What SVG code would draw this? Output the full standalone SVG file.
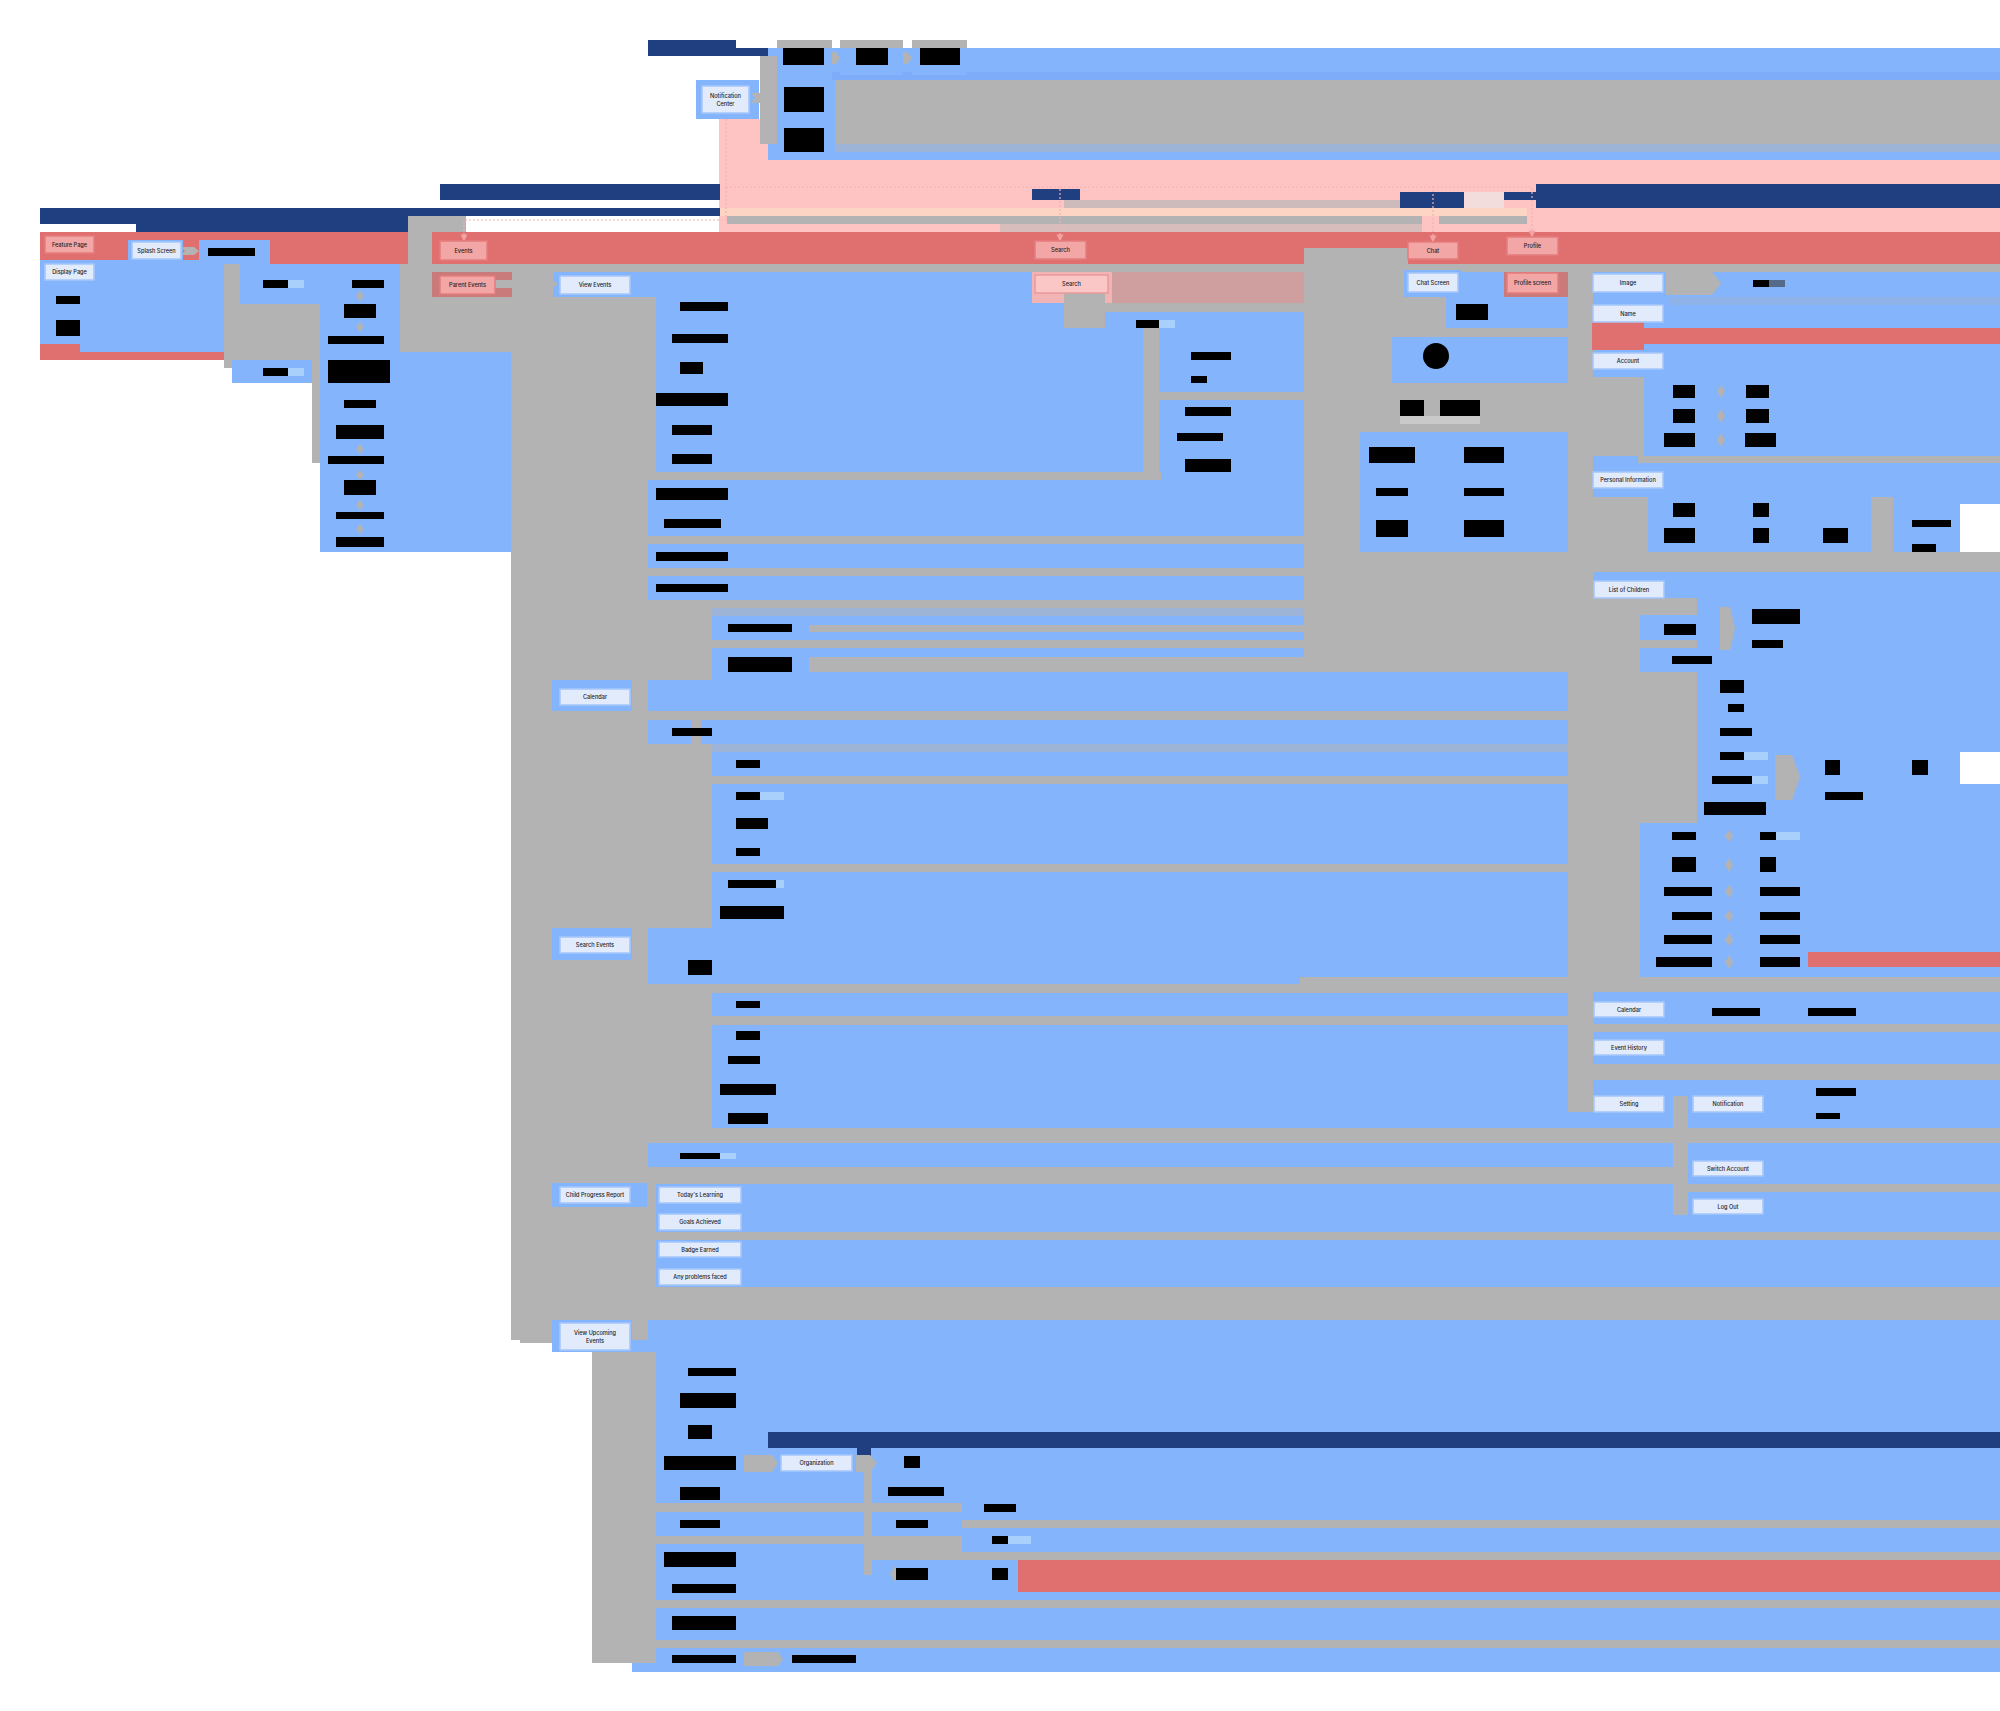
<svg xmlns="http://www.w3.org/2000/svg" width="2000" height="1711" viewBox="0 0 2000 1711">
<style>
.b{fill:#84b4fc}.b2{fill:#7eacf8}.g{fill:#b3b3b3}.r{fill:#e07070}.p{fill:#fec4c4}.d{fill:#1f3f80}.k{fill:#000}.w{fill:#fff}
.pg{fill:#cdbaba}.pk{fill:#fdd5c5}.gb{fill:#9db4d6}.hr{fill:#c97b7b}.lb{fill:#a9d0fa}
.n rect{fill:#e2ebfb;stroke:#a6c6fb;stroke-width:1.5}
.rn rect{fill:#f3a6a6;stroke:#e67c7c;stroke-width:1.5}
.sn rect{fill:#fbc6c6;stroke:#ea9a9a;stroke-width:1.5}
text{font-family:Inter,"Liberation Sans",sans-serif;font-size:5.6px;fill:#222;text-anchor:middle;font-weight:500}
.dot{fill:none;stroke:#f5b0b0;stroke-width:1.2;stroke-dasharray:2 2}
</style>
<defs>
<marker id="pa" markerWidth="6" markerHeight="6" refX="3" refY="3" orient="auto"><path d="M0,0 L6,3 L0,6 Z" fill="#f2a3a3"/></marker>
</defs>
<rect width="2000" height="1711" fill="#fff"/>
<g id="regions">
<rect class="p" x="719" y="119" width="58" height="41"/>
<rect class="p" x="719" y="160" width="1281" height="72"/>
<rect class="b" x="768" y="48" width="67" height="112"/>
<rect class="b" x="832" y="48" width="1168" height="32"/>
<rect class="b2" x="832" y="72" width="1168" height="8"/>
<rect class="g" x="835" y="80" width="1165" height="64"/>
<rect class="gb" x="835" y="144" width="1165" height="8"/>
<rect class="b" x="777" y="152" width="1223" height="8"/>
<rect class="g" x="760" y="56" width="17" height="88"/>
<rect class="d" x="648" y="40" width="88" height="16"/>
<rect class="d" x="736" y="48" width="32" height="8"/>
<rect class="g" x="777" y="40" width="55" height="8"/>
<rect class="g" x="840" y="40" width="63" height="8"/>
<rect class="g" x="912" y="40" width="55" height="8"/>
<rect class="b" x="840" y="48" width="63" height="27"/>
<rect class="b" x="912" y="48" width="55" height="27"/>
<rect class="b" x="696" y="80" width="63" height="39"/>
<rect class="d" x="440" y="184" width="280" height="16"/>
<rect class="d" x="40" y="208" width="680" height="8"/>
<rect class="d" x="40" y="216" width="368" height="8"/>
<rect class="d" x="136" y="224" width="272" height="8"/>
<rect class="d" x="1536" y="184" width="464" height="24"/>
<rect class="d" x="1400" y="192" width="64" height="16"/>
<rect fill="#f3dcdc" x="1464" y="192" width="40" height="16"/>
<rect class="d" x="1032" y="189" width="48" height="11"/>
<rect class="d" x="1504" y="192" width="32" height="8"/>
<rect class="pg" x="1064" y="200" width="336" height="8"/>
<rect class="pk" x="720" y="208" width="807" height="8"/>
<rect class="g" x="727" y="216" width="695" height="8"/>
<rect class="g" x="1439" y="216" width="88" height="8"/>
<rect fill="#d8bdbd" x="1000" y="224" width="422" height="8"/>
<rect class="g" x="408" y="216" width="58" height="16"/>
<rect class="r" x="40" y="232" width="368" height="32"/>
<rect class="g" x="408" y="232" width="24" height="40"/>
<rect class="r" x="432" y="232" width="1568" height="32"/>
<rect class="g" x="1304" y="248" width="104" height="16"/>
<rect class="g" x="408" y="264" width="1592" height="8"/>
<rect class="b" x="632" y="272" width="1368" height="1400"/>
<rect class="b" x="40" y="260" width="184" height="84"/>
<rect class="b" x="80" y="344" width="144" height="8"/>
<rect class="r" x="40" y="344" width="40" height="8"/>
<rect class="r" x="40" y="352" width="184" height="8"/>
<rect class="b" x="128" y="240" width="55" height="24"/>
<rect class="b" x="199" y="240" width="71" height="24"/>
<rect class="g" x="224" y="264" width="16" height="104"/>
<rect class="b" x="240" y="264" width="80" height="40"/>
<rect class="g" x="240" y="304" width="80" height="56"/>
<rect class="b" x="232" y="360" width="80" height="23"/>
<rect class="g" x="312" y="360" width="8" height="103"/>
<rect class="b" x="320" y="264" width="80" height="288"/>
<rect class="g" x="400" y="264" width="8" height="89"/>
<rect class="g" x="408" y="272" width="145" height="81"/>
<rect class="hr" x="432" y="272" width="80" height="25"/>
<rect class="b" x="553" y="272" width="79" height="25"/>
<rect class="b" x="400" y="352" width="111" height="200"/>
<rect class="g" x="511" y="297" width="137" height="1043"/>
<rect class="g" x="520" y="1335" width="32" height="8"/>
<rect class="g" x="647" y="297" width="9" height="183"/>
<rect class="g" x="647" y="472" width="514" height="8"/>
<rect fill="#cf9f9f" x="1032" y="272" width="272" height="31"/>
<rect fill="#f0b4b4" x="1032" y="272" width="80" height="31"/>
<rect class="g" x="1064" y="303" width="240" height="9"/>
<rect class="g" x="1064" y="293" width="41" height="35"/>
<rect class="g" x="1143" y="328" width="16" height="152"/>
<rect class="g" x="1159" y="392" width="145" height="8"/>
<rect class="g" x="1304" y="272" width="104" height="400"/>
<rect class="b" x="1404" y="270" width="58" height="27"/>
<rect class="b" x="1458" y="272" width="46" height="25"/>
<rect class="hr" x="1504" y="272" width="64" height="25"/>
<rect class="g" x="1408" y="297" width="38" height="31"/>
<rect class="b" x="1446" y="297" width="122" height="31"/>
<rect class="g" x="1408" y="328" width="160" height="9"/>
<rect class="b" x="1392" y="337" width="176" height="46"/>
<rect class="g" x="1360" y="383" width="208" height="49"/>
<rect fill="#c9c9c9" x="1400" y="416" width="80" height="8"/>
<rect class="b" x="1360" y="432" width="208" height="120"/>
<rect class="g" x="1304" y="552" width="264" height="120"/>
<rect class="g" x="1568" y="272" width="25" height="840"/>
<rect class="g" x="647" y="536" width="657" height="8"/>
<rect class="g" x="647" y="568" width="657" height="8"/>
<rect class="g" x="648" y="600" width="656" height="8"/>
<rect class="gb" x="712" y="608" width="592" height="8"/>
<rect class="g" x="648" y="600" width="64" height="80"/>
<rect class="g" x="809" y="625" width="495" height="7"/>
<rect class="g" x="712" y="640" width="592" height="8"/>
<rect class="g" x="809" y="657" width="495" height="15"/>
<rect class="b" x="552" y="680" width="80" height="31"/>
<rect class="g" x="632" y="711" width="936" height="9"/>
<rect class="gb" x="697" y="744" width="871" height="8"/>
<rect class="g" x="648" y="776" width="920" height="8"/>
<rect class="g" x="648" y="864" width="920" height="8"/>
<rect class="g" x="648" y="744" width="64" height="184"/>
<rect class="b" x="552" y="928" width="80" height="32"/>
<rect class="g" x="656" y="984" width="912" height="9"/>
<rect class="g" x="656" y="1016" width="912" height="9"/>
<rect class="g" x="648" y="984" width="64" height="144"/>
<rect class="g" x="691" y="711" width="10" height="160"/>
<rect class="g" x="511" y="1128" width="1489" height="15"/>
<rect class="g" x="511" y="1167" width="1162" height="17"/>
<rect class="g" x="1688" y="1184" width="312" height="8"/>
<rect class="g" x="511" y="1183" width="145" height="104"/>
<rect class="b" x="552" y="1183" width="95" height="24"/>
<rect class="g" x="656" y="1232" width="1344" height="8"/>
<rect class="g" x="511" y="1287" width="1489" height="33"/>
<rect class="b" x="552" y="1320" width="80" height="32"/>
<rect class="g" x="511" y="1320" width="41" height="15"/>
<rect class="g" x="592" y="1352" width="64" height="311"/>
<rect fill="#8fb2e8" x="1670" y="297" width="330" height="8"/>
<rect class="r" x="1592" y="328" width="408" height="16"/>
<rect class="r" x="1592" y="322" width="52" height="28"/>
<rect class="g" x="1593" y="377" width="51" height="79"/>
<rect class="g" x="1638" y="456" width="362" height="7"/>
<rect class="g" x="1593" y="497" width="55" height="63"/>
<rect class="g" x="1871" y="497" width="22" height="63"/>
<rect class="w" x="1960" y="504" width="40" height="56"/>
<rect class="g" x="1593" y="552" width="407" height="20"/>
<rect class="g" x="1592" y="598" width="105" height="225"/>
<rect class="b" x="1640" y="615" width="80" height="25"/>
<rect class="b" x="1640" y="648" width="80" height="24"/>
<rect class="b" x="1720" y="600" width="88" height="50"/>
<rect class="g" x="1592" y="823" width="48" height="154"/>
<rect class="g" x="1300" y="977" width="700" height="15"/>
<rect class="g" x="1300" y="1016" width="268" height="8"/>
<rect class="g" x="1592" y="1024" width="408" height="8"/>
<rect class="g" x="1568" y="1064" width="432" height="16"/>
<rect class="g" x="1673" y="1096" width="15" height="119"/>
<rect class="g" x="1300" y="1232" width="700" height="8"/>
<rect class="w" x="1960" y="752" width="40" height="32"/>
<rect class="r" x="1808" y="952" width="192" height="15"/>
<rect class="d" x="768" y="1432" width="1232" height="16"/>
<rect class="d" x="857" y="1448" width="14" height="8"/>
<rect class="g" x="864" y="1470" width="8" height="105"/>
<rect class="g" x="650" y="1503" width="312" height="9"/>
<rect class="g" x="962" y="1520" width="1038" height="8"/>
<rect class="g" x="650" y="1536" width="214" height="8"/>
<rect class="g" x="864" y="1536" width="98" height="24"/>
<rect class="g" x="962" y="1552" width="1038" height="8"/>
<rect class="r" x="1018" y="1560" width="982" height="32"/>
<rect class="g" x="650" y="1600" width="1350" height="8"/>
<rect class="g" x="650" y="1640" width="1350" height="8"/>
</g>
<g id="connectors">
<path class="dot" d="M726,119 V220 H464 V238" marker-end="url(#pa)"/>
<path class="dot" d="M726,187 H1060 V238" marker-end="url(#pa)"/>
<path class="dot" d="M1060,187 H1433 V239" marker-end="url(#pa)"/>
<path class="dot" d="M1433,187 H1532 V234" marker-end="url(#pa)"/>
<polygon class="g" points="181,247 194,247 199,251 194,255 181,255 185,251"/>
<polygon class="g" points="751,93 771,93 777,98 771,103 751,103 755,98"/>
<polygon class="g" points="832,52 836,52 840,58 836,64 832,64"/>
<polygon class="g" points="903,52 907,52 912,58 907,64 903,64"/>
<polygon class="g" points="495,280 552,280 558,284 552,288 495,288"/>
<polygon class="g" points="1666,272 1712,272 1721,283 1712,295 1666,295"/>
<polygon class="g" points="744,1455 772,1455 778,1463 772,1472 744,1472"/>
<polygon class="g" points="856,1455 870,1455 877,1463 870,1472 856,1472"/>
<polygon class="g" points="744,1652 778,1652 783,1659 778,1666 744,1666"/>
<polygon class="g" points="1775,755 1792,755 1800,777 1792,800 1775,800"/>
<polygon class="g" points="1720,607 1730,607 1735,628 1730,650 1720,650"/>
<polygon class="g" points="360,291 364,296 360,301 356,296"/>
<polygon class="g" points="360,322 364,327 360,332 356,327"/>
<polygon class="g" points="360,444 364,449 360,454 356,449"/>
<polygon class="g" points="360,470 364,475 360,480 356,475"/>
<polygon class="g" points="360,500 364,505 360,510 356,505"/>
<polygon class="g" points="360,524 364,529 360,534 356,529"/>
<polygon class="g" points="1721,385 1725,391 1721,398 1717,391"/>
<polygon class="g" points="1721,409 1725,416 1721,423 1717,416"/>
<polygon class="g" points="1721,433 1725,440 1721,447 1717,440"/>
<polygon class="g" points="1729,830 1733,836 1729,842 1725,836"/>
<polygon class="g" points="1729,858 1733,865 1729,872 1725,865"/>
<polygon class="g" points="1729,885 1733,891 1729,898 1725,891"/>
<polygon class="g" points="1729,910 1733,916 1729,922 1725,916"/>
<polygon class="g" points="1729,933 1733,940 1729,946 1725,940"/>
<polygon class="g" points="1729,955 1733,962 1729,969 1725,962"/>
<polygon class="g" points="895,1566 900,1574 895,1582 890,1574"/>
</g>
<g id="nodes">
<g id="n-notification-center" class="n"><rect x="702" y="86" width="47" height="27"/><text x="725.5" y="98">Notification</text><text x="725.5" y="106">Center</text></g>
<g id="n-feature-page" class="rn"><rect x="45" y="236" width="49" height="17"/><text x="69.5" y="246.5">Feature Page</text></g>
<g id="n-display-page" class="n"><rect x="45" y="264" width="49" height="16"/><text x="69.5" y="274">Display Page</text></g>
<g id="n-splash-screen" class="n"><rect x="132" y="242" width="49" height="17"/><text x="156.5" y="252.5">Splash Screen</text></g>
<g id="n-events" class="rn"><rect x="440" y="241" width="47" height="19"/><text x="463.5" y="252.5">Events</text></g>
<g id="n-parent-events" class="rn"><rect x="440" y="276" width="55" height="18"/><text x="467.5" y="287">Parent Events</text></g>
<g id="n-view-events" class="n"><rect x="560" y="276" width="70" height="18"/><text x="595" y="287">View Events</text></g>
<g id="n-search-tab" class="rn"><rect x="1035" y="241" width="51" height="18"/><text x="1060.5" y="252">Search</text></g>
<g id="n-search" class="sn"><rect x="1035" y="275" width="73" height="18"/><text x="1071.5" y="286">Search</text></g>
<g id="n-chat" class="rn"><rect x="1408" y="242" width="50" height="17"/><text x="1433" y="252.5">Chat</text></g>
<g id="n-profile" class="rn"><rect x="1507" y="237" width="51" height="18"/><text x="1532.5" y="248">Profile</text></g>
<g id="n-chat-screen" class="n"><rect x="1408" y="273" width="50" height="19"/><text x="1433" y="284.5">Chat Screen</text></g>
<g id="n-profile-screen" class="rn"><rect x="1507" y="273" width="51" height="20"/><text x="1532.5" y="285">Profile screen</text></g>
<g id="n-image" class="n"><rect x="1593" y="274" width="70" height="18"/><text x="1628" y="285">Image</text></g>
<g id="n-name" class="n"><rect x="1593" y="305" width="70" height="17"/><text x="1628" y="315.5">Name</text></g>
<g id="n-account" class="n"><rect x="1593" y="353" width="70" height="16"/><text x="1628" y="363">Account</text></g>
<g id="n-personal-information" class="n"><rect x="1593" y="472" width="70" height="16"/><text x="1628" y="482">Personal Information</text></g>
<g id="n-list-of-children" class="n"><rect x="1594" y="581" width="70" height="17"/><text x="1629" y="591.5">List of Children</text></g>
<g id="n-calendar-profile" class="n"><rect x="1594" y="1002" width="70" height="15"/><text x="1629" y="1011.5">Calendar</text></g>
<g id="n-event-history" class="n"><rect x="1594" y="1040" width="70" height="15"/><text x="1629" y="1049.5">Event History</text></g>
<g id="n-setting" class="n"><rect x="1594" y="1096" width="70" height="16"/><text x="1629" y="1106">Setting</text></g>
<g id="n-notification" class="n"><rect x="1693" y="1096" width="70" height="16"/><text x="1728" y="1106">Notification</text></g>
<g id="n-switch-account" class="n"><rect x="1693" y="1161" width="70" height="15"/><text x="1728" y="1170.5">Switch Account</text></g>
<g id="n-log-out" class="n"><rect x="1693" y="1199" width="70" height="15"/><text x="1728" y="1208.5">Log Out</text></g>
<g id="n-calendar" class="n"><rect x="560" y="689" width="70" height="16"/><text x="595" y="699">Calendar</text></g>
<g id="n-search-events" class="n"><rect x="560" y="937" width="70" height="16"/><text x="595" y="947">Search Events</text></g>
<g id="n-child-progress-report" class="n"><rect x="560" y="1187" width="70" height="16"/><text x="595" y="1197">Child Progress Report</text></g>
<g id="n-todays-learning" class="n"><rect x="659" y="1187" width="82" height="16"/><text x="700" y="1197" font-weight="400">Today's Learning</text></g>
<g id="n-goals-achieved" class="n"><rect x="659" y="1214" width="82" height="16"/><text x="700" y="1224" font-weight="400">Goals Achieved</text></g>
<g id="n-badge-earned" class="n"><rect x="659" y="1242" width="82" height="15"/><text x="700" y="1251.5" font-weight="400">Badge Earned</text></g>
<g id="n-any-problems-faced" class="n"><rect x="659" y="1269" width="82" height="16"/><text x="700" y="1279" font-weight="400">Any problems faced</text></g>
<g id="n-view-upcoming-events" class="n"><rect x="560" y="1323" width="70" height="27"/><text x="595" y="1334.5">View Upcoming</text><text x="595" y="1343">Events</text></g>
<g id="n-organization" class="n"><rect x="781" y="1455" width="71" height="16"/><text x="816.5" y="1465">Organization</text></g>
</g>
<g id="hidden-labels">
<rect class="k" x="783" y="48" width="41" height="17"/><rect class="k" x="856" y="48" width="32" height="17"/><rect class="k" x="920" y="48" width="40" height="17"/>
<rect class="k" x="784" y="87" width="40" height="25"/><rect class="k" x="784" y="128" width="40" height="24"/>
<rect class="k" x="56" y="296" width="24" height="8"/><rect class="k" x="56" y="320" width="24" height="16"/>
<rect class="k" x="208" y="248" width="47" height="8"/>
<rect class="k" x="263" y="280" width="25" height="8"/><rect class="lb" x="288" y="280" width="16" height="8"/>
<rect class="k" x="263" y="368" width="25" height="8"/><rect class="lb" x="288" y="368" width="16" height="8"/>
<rect class="k" x="352" y="280" width="32" height="8"/><rect class="k" x="344" y="304" width="32" height="14"/><rect class="k" x="328" y="336" width="56" height="8"/>
<rect class="k" x="328" y="360" width="62" height="23"/><rect class="k" x="344" y="400" width="32" height="8"/><rect class="k" x="336" y="425" width="48" height="14"/>
<rect class="k" x="328" y="456" width="56" height="8"/><rect class="k" x="344" y="480" width="32" height="15"/><rect class="k" x="336" y="512" width="48" height="7"/>
<rect class="k" x="336" y="537" width="48" height="10"/>
<rect class="k" x="680" y="302" width="48" height="9"/><rect class="k" x="672" y="334" width="56" height="9"/><rect class="k" x="680" y="362" width="23" height="12"/>
<rect class="k" x="656" y="393" width="72" height="13"/><rect class="k" x="672" y="425" width="40" height="10"/><rect class="k" x="672" y="454" width="40" height="10"/>
<rect class="k" x="656" y="488" width="72" height="12"/><rect class="k" x="664" y="519" width="57" height="9"/><rect class="k" x="656" y="552" width="72" height="9"/>
<rect class="k" x="656" y="584" width="72" height="8"/><rect class="k" x="728" y="624" width="64" height="8"/><rect class="k" x="728" y="657" width="64" height="15"/>
<rect class="k" x="1136" y="320" width="23" height="8"/><rect class="lb" x="1159" y="320" width="16" height="8"/>
<rect class="k" x="1191" y="352" width="40" height="8"/><rect class="k" x="1191" y="376" width="16" height="7"/><rect class="k" x="1185" y="407" width="46" height="9"/>
<rect class="k" x="1177" y="433" width="46" height="8"/><rect class="k" x="1185" y="459" width="46" height="13"/>
<rect class="k" x="1456" y="304" width="32" height="16"/><circle class="k" cx="1436" cy="356" r="13"/>
<rect class="k" x="1400" y="400" width="24" height="16"/><rect class="k" x="1440" y="400" width="40" height="16"/>
<rect class="k" x="1369" y="447" width="46" height="16"/><rect class="k" x="1464" y="447" width="40" height="16"/>
<rect class="k" x="1376" y="488" width="32" height="8"/><rect class="k" x="1464" y="488" width="40" height="8"/>
<rect class="k" x="1376" y="520" width="32" height="17"/><rect class="k" x="1464" y="520" width="40" height="17"/>
<rect class="k" x="1753" y="280" width="16" height="7"/><rect fill="#556a88" x="1769" y="280" width="16" height="7"/>
<rect class="k" x="1673" y="385" width="22" height="13"/><rect class="k" x="1746" y="385" width="23" height="13"/>
<rect class="k" x="1673" y="409" width="22" height="14"/><rect class="k" x="1746" y="409" width="23" height="14"/>
<rect class="k" x="1664" y="433" width="31" height="14"/><rect class="k" x="1745" y="433" width="31" height="14"/>
<rect class="k" x="1673" y="503" width="22" height="14"/><rect class="k" x="1753" y="503" width="16" height="14"/>
<rect class="k" x="1664" y="528" width="31" height="15"/><rect class="k" x="1753" y="528" width="16" height="15"/><rect class="k" x="1823" y="528" width="25" height="15"/>
<rect class="k" x="1912" y="520" width="39" height="7"/><rect class="k" x="1912" y="544" width="24" height="8"/>
<rect class="k" x="1664" y="624" width="32" height="11"/><rect class="k" x="1752" y="609" width="48" height="15"/><rect class="k" x="1752" y="640" width="31" height="8"/>
<rect class="k" x="1672" y="656" width="40" height="8"/><rect class="k" x="1720" y="680" width="24" height="13"/><rect class="k" x="1728" y="704" width="16" height="8"/>
<rect class="k" x="1720" y="728" width="32" height="8"/><rect class="k" x="1720" y="752" width="24" height="8"/><rect class="lb" x="1744" y="752" width="24" height="8"/>
<rect class="k" x="1712" y="776" width="40" height="8"/><rect class="lb" x="1752" y="776" width="16" height="8"/><rect class="k" x="1704" y="802" width="62" height="13"/>
<rect class="k" x="1825" y="760" width="15" height="15"/><rect class="k" x="1912" y="760" width="16" height="15"/><rect class="k" x="1825" y="792" width="38" height="8"/>
<rect class="k" x="1672" y="832" width="24" height="8"/><rect class="k" x="1760" y="832" width="16" height="8"/><rect class="lb" x="1776" y="832" width="24" height="8"/>
<rect class="k" x="1672" y="857" width="24" height="15"/><rect class="k" x="1760" y="857" width="16" height="15"/>
<rect class="k" x="1664" y="887" width="48" height="9"/><rect class="k" x="1760" y="887" width="40" height="9"/>
<rect class="k" x="1672" y="912" width="40" height="8"/><rect class="k" x="1760" y="912" width="40" height="8"/>
<rect class="k" x="1664" y="935" width="48" height="9"/><rect class="k" x="1760" y="935" width="40" height="9"/>
<rect class="k" x="1656" y="957" width="56" height="10"/><rect class="k" x="1760" y="957" width="40" height="10"/>
<rect class="k" x="1712" y="1008" width="48" height="8"/><rect class="k" x="1808" y="1008" width="48" height="8"/>
<rect class="k" x="1816" y="1088" width="40" height="8"/><rect class="k" x="1816" y="1113" width="24" height="6"/>
<rect class="k" x="672" y="728" width="40" height="8"/><rect class="k" x="736" y="760" width="24" height="8"/>
<rect class="k" x="736" y="792" width="24" height="8"/><rect class="lb" x="760" y="792" width="24" height="8"/>
<rect class="k" x="736" y="818" width="32" height="11"/><rect class="k" x="736" y="848" width="24" height="8"/>
<rect class="k" x="728" y="880" width="48" height="8"/><rect class="lb" x="776" y="880" width="8" height="8"/><rect class="k" x="720" y="906" width="64" height="13"/>
<rect class="k" x="688" y="960" width="24" height="15"/><rect class="k" x="736" y="1001" width="24" height="7"/><rect class="k" x="736" y="1031" width="24" height="9"/>
<rect class="k" x="728" y="1056" width="32" height="8"/><rect class="k" x="720" y="1084" width="56" height="11"/><rect class="k" x="728" y="1113" width="40" height="11"/>
<rect class="k" x="680" y="1153" width="40" height="6"/><rect class="lb" x="720" y="1153" width="16" height="6"/>
<rect class="k" x="688" y="1368" width="48" height="8"/><rect class="k" x="680" y="1393" width="56" height="15"/><rect class="k" x="688" y="1425" width="24" height="14"/>
<rect class="k" x="664" y="1456" width="72" height="14"/><rect class="k" x="904" y="1456" width="16" height="12"/><rect class="k" x="888" y="1487" width="56" height="9"/>
<rect class="k" x="680" y="1487" width="40" height="13"/><rect class="k" x="984" y="1504" width="32" height="8"/>
<rect class="k" x="680" y="1520" width="40" height="8"/><rect class="k" x="896" y="1520" width="32" height="8"/>
<rect class="k" x="992" y="1536" width="16" height="8"/><rect class="lb" x="1008" y="1536" width="23" height="8"/>
<rect class="k" x="664" y="1552" width="72" height="15"/><rect class="k" x="672" y="1584" width="64" height="9"/>
<rect class="k" x="896" y="1568" width="32" height="12"/><rect class="k" x="992" y="1568" width="16" height="12"/>
<rect class="k" x="672" y="1616" width="64" height="14"/><rect class="k" x="672" y="1655" width="64" height="8"/><rect class="k" x="792" y="1655" width="64" height="8"/>
</g>
</svg>
